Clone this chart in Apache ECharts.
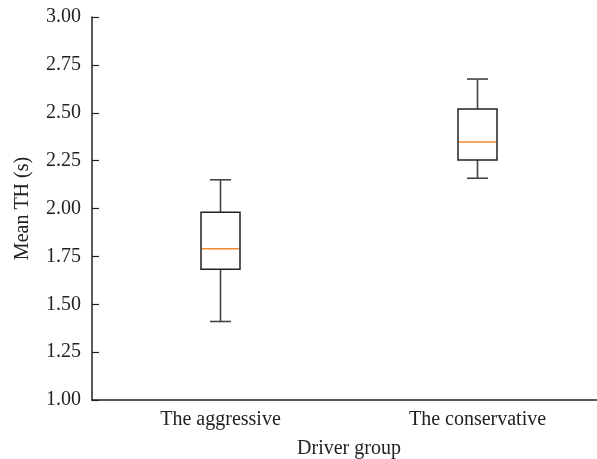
<!DOCTYPE html>
<html>
<head>
<meta charset="utf-8">
<script src="https://cdn.jsdelivr.net/npm/echarts@6/dist/echarts.min.js"></script>
<style>html,body{margin:0;padding:0;background:#fff}#c{width:597px;height:459px}</style>
</head>
<body>
<div id="c"></div>
<script>
const categories = ['The aggressive', 'The conservative'];
// [lowerWhisker, Q1, median, Q3, upperWhisker]
const aggressiveBox = [1.41, 1.683, 1.79, 1.98, 2.15];
const conservativeBox = [2.158, 2.253, 2.347, 2.52, 2.676];
const yTicks = [1.00, 1.25, 1.50, 1.75, 2.00, 2.25, 2.50, 2.75, 3.00];

const boxes = [aggressiveBox, conservativeBox];
const data = boxes.map((b, i) => [i].concat(b));

const FONT = '"Liberation Serif", "DejaVu Serif", serif';
const chart = echarts.init(document.getElementById('c'));
chart.setOption({
  animation: false,
  backgroundColor: '#fff',
  grid: { left: 92, top: 17, width: 514, height: 383, outerBoundsMode: 'none', containLabel: false },
  xAxis: {
    type: 'category',
    data: categories,
    name: 'Driver group',
    nameLocation: 'middle',
    nameGap: 39,
    nameTextStyle: { fontFamily: FONT, fontSize: 20, color: '#222' },
    axisLine: { lineStyle: { color: '#222', width: 1.5 } },
    axisTick: { inside: true, length: 5, alignWithLabel: true, lineStyle: { color: '#222', width: 1.2 } },
    axisLabel: { fontFamily: FONT, fontSize: 20, color: '#222', margin: 10 },
    splitLine: { show: false }
  },
  yAxis: {
    type: 'value',
    min: yTicks[0], max: yTicks[yTicks.length - 1], interval: 0.25,
    name: 'Mean TH (s)',
    nameLocation: 'middle',
    nameGap: 59,
    nameTextStyle: { fontFamily: FONT, fontSize: 20, color: '#222' },
    axisLine: { show: true, lineStyle: { color: '#222', width: 1.5 } },
    axisTick: { show: true, inside: true, length: 7, lineStyle: { color: '#222', width: 1.2 } },
    axisLabel: { fontFamily: FONT, fontSize: 20, color: '#222', margin: 11, formatter: v => v.toFixed(2) },
    splitLine: { show: false }
  },
  series: [{
    type: 'custom',
    data: data,
    encode: { x: 0, y: [1, 2, 3, 4, 5] },
    renderItem: function (params, api) {
      const xi = api.value(0);
      const pLo = api.coord([xi, api.value(1)]);
      const pQ1 = api.coord([xi, api.value(2)]);
      const pMed = api.coord([xi, api.value(3)]);
      const pQ3 = api.coord([xi, api.value(4)]);
      const pHi = api.coord([xi, api.value(5)]);
      const cx = pLo[0];
      const bw = 39, cw = 21;
      const wStyle = { stroke: '#444', lineWidth: 1.6 };
      return {
        type: 'group',
        children: [
          { type: 'line', shape: { x1: cx, y1: pHi[1], x2: cx, y2: pQ3[1] }, style: wStyle },
          { type: 'line', shape: { x1: cx, y1: pQ1[1], x2: cx, y2: pLo[1] }, style: wStyle },
          { type: 'line', shape: { x1: cx - cw / 2, y1: pHi[1], x2: cx + cw / 2, y2: pHi[1] }, style: wStyle },
          { type: 'line', shape: { x1: cx - cw / 2, y1: pLo[1], x2: cx + cw / 2, y2: pLo[1] }, style: wStyle },
          { type: 'rect', shape: { x: cx - bw / 2, y: pQ3[1], width: bw, height: pQ1[1] - pQ3[1] }, style: { fill: 'none', stroke: '#222', lineWidth: 1.5 } },
          { type: 'line', shape: { x1: cx - bw / 2 + 1, y1: pMed[1], x2: cx + bw / 2 - 1, y2: pMed[1] }, style: { stroke: '#f0882f', lineWidth: 1.5 } }
        ]
      };
    }
  }]
});
</script>
</body>
</html>
